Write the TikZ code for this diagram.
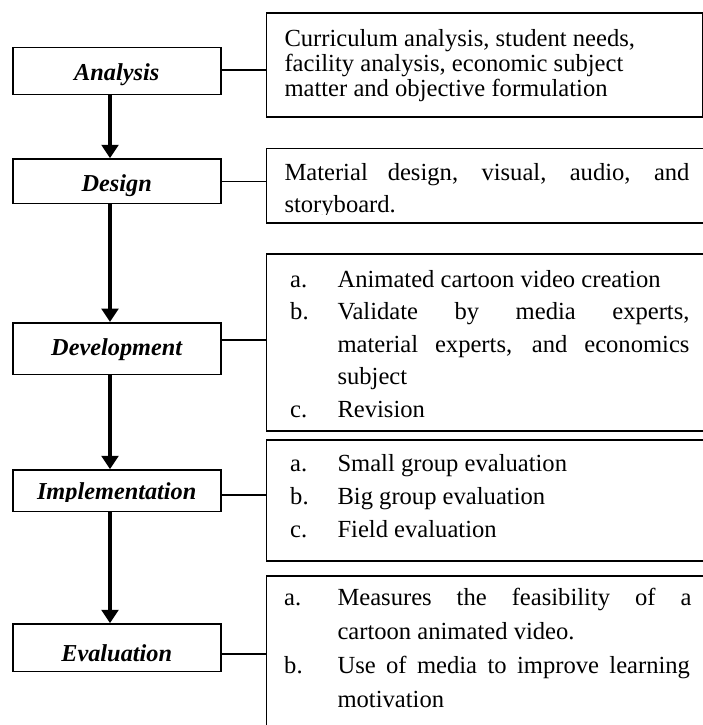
\documentclass[tikz,border=0pt]{standalone}
\usepackage{fontspec}
\setmainfont{Liberation Serif}
\usetikzlibrary{arrows.meta}
\begin{document}
\begin{tikzpicture}[x=1pt,y=-1pt,
  stage/.style={draw, line width=1.6pt, minimum width=208pt, inner sep=0pt},
  info/.style={draw, line width=1.6pt, inner sep=0pt, anchor=north west},
  stagename/.style={font=\fontsize{24.3}{24.3}\selectfont\bfseries\itshape, anchor=base, inner sep=0pt},
  item/.style={font=\fontsize{24.6}{24.6}\selectfont, anchor=base west, inner sep=0pt},
  flow/.style={line width=3.3pt, -{Triangle[length=13.4pt,width=16.7pt]}},
  link/.style={line width=1.5pt}]
\clip (0,0) rectangle (703,725);
\fill[white] (0,0) rectangle (703,725);

% stage boxes (left column)
\node[stage, minimum height=46.6pt] (ana) at (116.7,71) {};
\node[stage, minimum height=44.7pt] (des) at (116.7,181.3) {};
\node[stage, minimum height=51.6pt] (dev) at (116.7,348.5) {};
\node[stage, minimum height=41.7pt] (imp) at (116.7,490.8) {};
\node[stage, minimum height=47.7pt] (eva) at (116.7,647.8) {};

\node[stagename] (anat) at (116.7,81) {Analysis};
\node[stagename] (dest) at (116.7,191) {Design};
\node[stagename] (devt) at (116.7,355.5) {Development};
\begin{scope}
  \clip (12.7,470) rectangle (220.7,501.5);
  \node[stagename] (impt) at (116.7,499.5) {Implementation};
\end{scope}
\node[stagename] (evat) at (116.7,661) {Evaluation};

% activity boxes (right column)
\node[info, minimum width=436.3pt, minimum height=104pt] (b1) at (265.7,12.3) {};
\node[info, minimum width=450pt, minimum height=74.5pt] (b2) at (265.7,147.7) {};
\node[info, minimum width=450pt, minimum height=176.7pt] (b3) at (265.7,253.3) {};
\node[info, minimum width=450pt, minimum height=121pt] (b4) at (265.7,439) {};
\node[info, minimum width=450pt, minimum height=170pt] (b5) at (265.7,575) {};

% box 1
\node[item] (t11) at (284.3,47) {Curriculum analysis, student needs,};
\node[item] (t12) at (284.3,71.5) {facility analysis, economic subject};
\node[item] (t13) at (284.3,96) {matter and objective formulation};

% box 2
\node[item] (t21) at (284.3,180) {\makebox[405pt][s]{Material design, visual, audio, and}};
\begin{scope}
  \clip (265.7,147.7) rectangle (703,214.5);
  \node[item] (t22) at (284.3,212.5) {storyboard.};
\end{scope}

% box 3
\node[item] (l3a) at (290,287) {a.};
\node[item] (t31) at (337.3,287) {Animated cartoon video creation};
\node[item] (l3b) at (290,319.5) {b.};
\node[item] (t32) at (337.3,319.5) {\makebox[352pt][s]{Validate by media experts,}};
\node[item] (t33) at (337.3,352) {\makebox[352pt][s]{material experts, and economics}};
\node[item] (t34) at (337.3,384.5) {subject};
\node[item] (l3c) at (290,417) {c.};
\node[item] (t35) at (337.3,417) {Revision};

% box 4
\node[item] (l4a) at (290,471) {a.};
\node[item] (t41) at (337.3,471) {Small group evaluation};
\node[item] (l4b) at (290,504) {b.};
\node[item] (t42) at (337.3,504) {Big group evaluation};
\node[item] (l4c) at (290,537) {c.};
\node[item] (t43) at (337.3,537) {Field evaluation};

% box 5
\node[item] (l5a) at (284,605) {a.};
\node[item] (t51) at (337.3,605) {\makebox[354pt][s]{Measures the feasibility of a}};
\node[item] (t52) at (337.3,639) {cartoon animated video.};
\node[item] (l5b) at (284,673) {b.};
\node[item] (t53) at (337.3,673) {\makebox[352.5pt][s]{Use of media to improve learning}};
\node[item] (t54) at (337.3,707) {motivation};

% flow arrows
\draw[flow] ([xshift=-6.7pt]ana.south) -- ([xshift=-6.7pt]des.north);
\draw[flow] ([xshift=-6.7pt]des.south) -- ([xshift=-6.7pt]dev.north);
\draw[flow] ([xshift=-6.7pt]dev.south) -- ([xshift=-6.7pt]imp.north);
\draw[flow] ([xshift=-6.7pt]imp.south) -- ([xshift=-6.7pt]eva.north);

% links to activity boxes
\draw[link] ([yshift=1pt]ana.east) -- ([yshift=1pt]ana.east -| b1.west);
\draw[link] (des.east) -- (des.east -| b2.west);
\draw[link] ([yshift=8.5pt]dev.east) -- ([yshift=8.5pt]dev.east -| b3.west);
\draw[link] ([yshift=-4.2pt]imp.east) -- ([yshift=-4.2pt]imp.east -| b4.west);
\draw[link] ([yshift=-6.2pt]eva.east) -- ([yshift=-6.2pt]eva.east -| b5.west);
\end{tikzpicture}
\end{document}
